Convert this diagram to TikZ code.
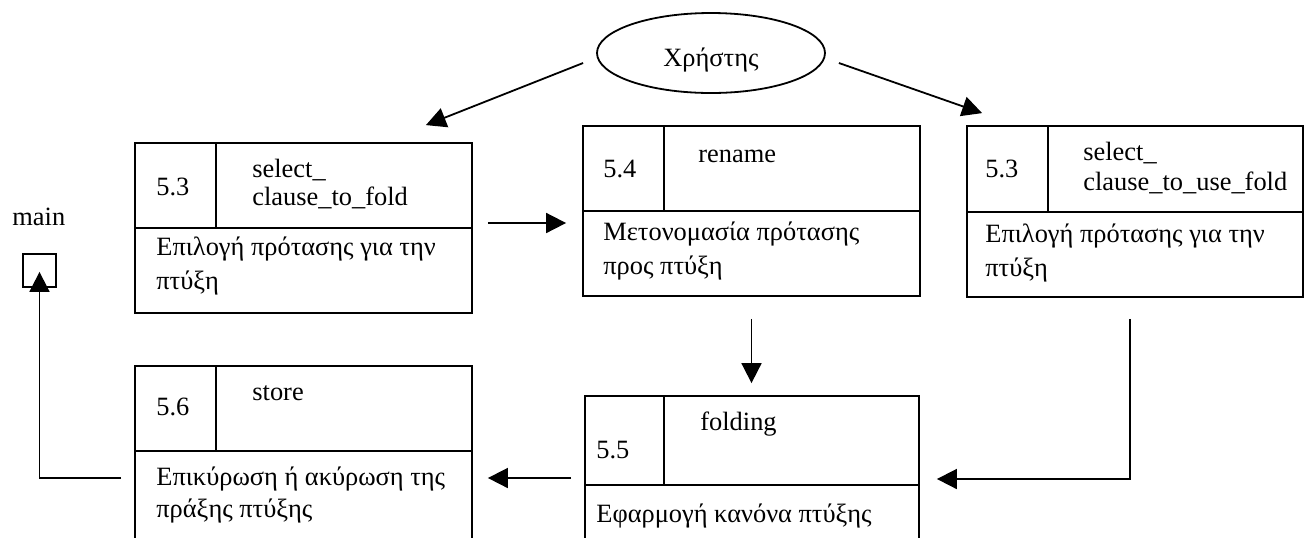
\documentclass[tikz,border=0pt]{standalone}
\usepackage{fontspec}
\setmainfont{Liberation Serif}
\usetikzlibrary{arrows.meta,shapes.geometric,fit}

\tikzset{
  base/.style={line width=0.9pt},
  frame/.style={base, draw, inner sep=0pt, fit=#1},
  tabline/.style={line width=1.3pt},
  arr/.style={base, -{Triangle[length=10pt,width=10pt]}},
  lbl/.style={anchor=base west, inner sep=0pt,
    font=\fontsize{13.2pt}{16pt}\selectfont},
}

% process box: name, left, top, right, bottom, id-column x, header line y
\newcommand\procbox[7]{%
  \coordinate (#1-nw) at (#2,#3);
  \coordinate (#1-se) at (#4,#5);
  \node[frame={(#1-nw)(#1-se)}] (#1) {};
  \draw[base] (#6,#3) -- (#6,#7);
  \draw[base] (#2,#7) -- (#4,#7);
  \draw[tabline] (#6,#3) -- ++(32,0);
}

\begin{document}
\begin{tikzpicture}[x=0.5pt,y=-0.5pt]
\useasboundingbox (0,0) rectangle (1311,537);
\clip (0,0) rectangle (1311,537);

% user
\node[ellipse, draw, base, minimum width=114pt, minimum height=40pt, inner sep=0pt,
      text height=16.7pt, text depth=2.9pt,
      font=\fontsize{13.2pt}{16pt}\selectfont] (U) at (711,53) {Χρήστης};

% main
\node[draw, base, minimum width=16.5pt, minimum height=16.5pt, inner sep=0pt] (M) at (39.5,270.5) {};
\node[lbl] (mainlbl) at (12,225) {main};

% processes
\procbox{A}{135}{143}{472}{313}{216}{228}
\procbox{B}{583}{126}{920}{296}{664}{211}
\procbox{C}{967}{126}{1303}{297}{1048}{212}
\procbox{D}{135}{366}{472}{560}{216}{451}
\procbox{E}{585}{396}{919}{560}{664}{485}

% texts of 5.3 (select_clause_to_fold)
\node[lbl] (A-id) at (156,195) {5.3};
\node[lbl] (A-n1) at (252,177) {select\_};
\node[lbl] (A-n2) at (252,205) {clause\_to\_fold};
\node[lbl] (A-d1) at (156,255) {Επιλογή πρότασης για την};
\node[lbl] (A-d2) at (156,289) {πτύξη};

% texts of 5.4 (rename)
\node[lbl] (B-id) at (603,177) {5.4};
\node[lbl] (B-n1) at (698,162) {rename};
\node[lbl] (B-d1) at (603,240) {Μετονομασία πρότασης};
\node[lbl] (B-d2) at (603,274) {προς πτύξη};

% texts of 5.3 (select_clause_to_use_fold)
\node[lbl] (C-id) at (985,177) {5.3};
\node[lbl] (C-n1) at (1083,160) {select\_};
\node[lbl] (C-n2) at (1083,190) {clause\_to\_use\_fold};
\node[lbl] (C-d1) at (985,242) {Επιλογή πρότασης για την};
\node[lbl] (C-d2) at (985,276) {πτύξη};

% texts of 5.6 (store)
\node[lbl] (D-id) at (156,415) {5.6};
\node[lbl] (D-n1) at (252,400) {store};
\node[lbl] (D-d1) at (156,485) {Επικύρωση ή ακύρωση της};
\node[lbl] (D-d2) at (156,517) {πράξης πτύξης};

% texts of 5.5 (folding)
\node[lbl] (E-id) at (596,458) {5.5};
\node[lbl] (E-n1) at (700,430) {folding};
\node[lbl] (E-d1) at (596,522) {Εφαρμογή κανόνα πτύξης};

% flows
\draw[arr] ([shift={(-13,10)}]U.west) -- ([shift={(-47,-17)}]A.north east);
\draw[arr] ([shift={(13,10)}]U.east) -- ([shift={(16,-12)}]C.north west);
\draw[arr] ([shift={(15,-5)}]A.east) -- ([shift={(-16,-5)}]A.east -| B.west);
\draw[arr] ([yshift=-11pt]B.south) -- ([yshift=6pt]B.south |- E.north);
\draw[arr] ([shift={(-5,21)}]C.south) |- ([shift={(17,0)}]E.east |- 0,479);
\draw[arr] ([xshift=-6.5pt]E.west |- 0,478) -- ([xshift=7.5pt]D.east |- 0,478);
\draw[arr] ([xshift=-6.5pt]D.west |- 0,478) -| ([yshift=8pt]M.south);

\end{tikzpicture}
\end{document}
